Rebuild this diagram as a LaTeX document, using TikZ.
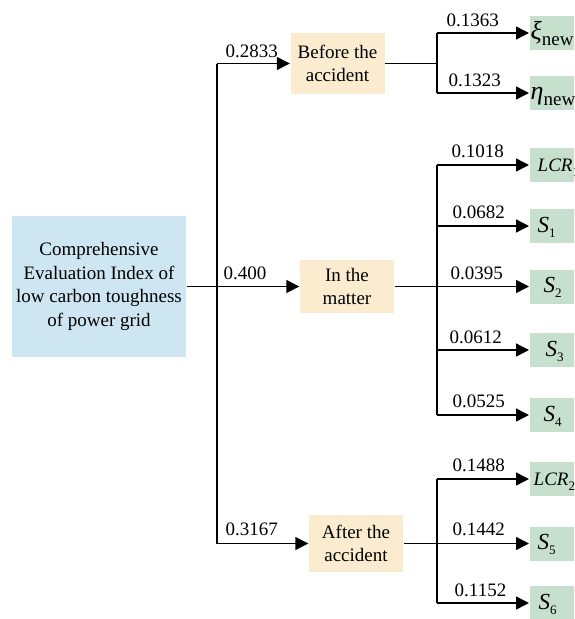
\documentclass[tikz,border=0pt]{standalone}
\usepackage{fontspec}
\setmainfont{Liberation Serif}
\usetikzlibrary{arrows.meta}

\definecolor{rootblue}{RGB}{205,230,242}
\definecolor{phasetan}{RGB}{251,236,208}
\definecolor{leafgreen}{RGB}{198,224,205}

% italic symbol with an upright subscript
\newcommand{\subidx}[2]{\textit{#1}\raisebox{-5pt}{\fontsize{13}{13}\selectfont #2}}
% larger italic letter with an upright subscript
\newcommand{\bigidx}[2]{{\fontsize{23}{23}\selectfont\textit{#1}}\raisebox{-5pt}{\fontsize{13}{13}\selectfont #2}}
% larger Greek symbol with an upright subscript
\newcommand{\greekidx}[2]{{\fontsize{26}{26}\selectfont\textit{#1}}\raisebox{-6pt}{\fontsize{19}{19}\selectfont #2}}

\begin{document}
\begin{tikzpicture}[
  x=1pt, y=-1pt,
  font=\fontsize{19}{23.5}\selectfont,
  line width=1.4pt,
  >={Triangle[length=13pt,width=13pt]},
  rootbox/.style={fill=rootblue, minimum width=174pt, minimum height=141pt, align=center, inner sep=0pt},
  phasebox/.style={fill=phasetan, minimum width=94pt, align=center, inner sep=0pt},
  leafbox/.style={fill=leafgreen, anchor=west, text width=50pt, align=left,
                  text height=16pt, text depth=4pt, inner ysep=7pt},
  weight/.style={anchor=base west, inner sep=0pt},
  wire/.style={draw},
  feed/.style={draw, ->}
]
\useasboundingbox (0,0) rectangle (574,619);
\clip (0,0) rectangle (574,619);

% ---- root and the three phases
\node[rootbox] (root) at (99,286.5) {Comprehensive\\Evaluation Index of\\low carbon toughness\\of power grid};
\node[phasebox, minimum height=61pt] (before) at (337.5,63.5) {Before the\\accident};
\node[phasebox, minimum height=53pt] (matter) at (347,286.5) {In the\\matter};
\node[phasebox, minimum height=57pt] (after)  at (356,543.5) {After the\\accident};

% ---- leaf indicators
\node[leafbox, inner xsep=1pt]  (xi)   at (529,33)  {\greekidx{ξ}{new}};
\node[leafbox, inner xsep=1pt]  (eta)  at (529,93)  {\greekidx{η}{new}};
\node[leafbox, inner xsep=8pt]  (lcr1) at (529,165) {\subidx{LCR}{1}};
\node[leafbox, inner xsep=8pt]  (s1)   at (529,226) {\bigidx{S}{1}};
\node[leafbox, inner xsep=14pt] (s2)   at (529,286.5) {\bigidx{S}{2}};
\node[leafbox, inner xsep=16pt] (s3)   at (529,350) {\bigidx{S}{3}};
\node[leafbox, inner xsep=14pt] (s4)   at (529,415) {\bigidx{S}{4}};
\node[leafbox, inner xsep=4pt]  (lcr2) at (529,479) {\subidx{LCR}{2}};
\node[leafbox, inner xsep=8pt]  (s5)   at (529,543.5) {\bigidx{S}{5}};
\node[leafbox, inner xsep=9pt]  (s6)   at (529,603) {\bigidx{S}{6}};

% ---- junction points
\coordinate (trunkTop) at (217,63.5);
\coordinate (trunkBot) at (217,543.5);
\coordinate (bj)  at (437,63.5);
\coordinate (bjT) at (437,33);
\coordinate (bjB) at (437,93);
\coordinate (mj)  at (437,286.5);
\coordinate (mj1) at (437,165);
\coordinate (mj2) at (437,226);
\coordinate (mj4) at (437,350);
\coordinate (mj5) at (437,415);
\coordinate (aj)  at (437,543.5);
\coordinate (aj1) at (437,479);
\coordinate (aj3) at (437,603);

% ---- root to phases
\draw[wire] (trunkTop) -- (trunkBot);
\draw[feed] (root.east) -- (matter.west);
\draw[feed] (trunkTop) -- (before.west);
\draw[feed] (trunkBot) -- (after.west);

% ---- before the accident
\draw[wire] (before.east) -- (bj);
\draw[wire] (bjT) -- (bjB);
\draw[feed] (bjT) -- (xi.west);
\draw[feed] (bjB) -- (eta.west);

% ---- in the matter
\draw[wire] (matter.east) -- (mj);
\draw[wire] (mj1) -- (mj5);
\draw[feed] (mj1) -- (lcr1.west);
\draw[feed] (mj2) -- (s1.west);
\draw[feed] (mj)  -- (s2.west);
\draw[feed] (mj4) -- (s3.west);
\draw[feed] (mj5) -- (s4.west);

% ---- after the accident
\draw[wire] (after.east) -- (aj);
\draw[wire] (aj1) -- (aj3);
\draw[feed] (aj1) -- (lcr2.west);
\draw[feed] (aj)  -- (s5.west);
\draw[feed] (aj3) -- (s6.west);

% ---- weights
\node[weight] (w0) at (225,57)  {0.2833};
\node[weight] (w1) at (223,279) {0.400};
\node[weight] (w2) at (225,535) {0.3167};
\node[weight] (w3) at (446,26)  {0.1363};
\node[weight] (w4) at (448,86)  {0.1323};
\node[weight] (w5) at (451,157) {0.1018};
\node[weight] (w6) at (452,218) {0.0682};
\node[weight] (w7) at (450,279) {0.0395};
\node[weight] (w8) at (449,343) {0.0612};
\node[weight] (w9) at (452,407) {0.0525};
\node[weight] (w10) at (452,471) {0.1488};
\node[weight] (w11) at (452,535) {0.1442};
\node[weight] (w12) at (454,596) {0.1152};
\end{tikzpicture}
\end{document}
